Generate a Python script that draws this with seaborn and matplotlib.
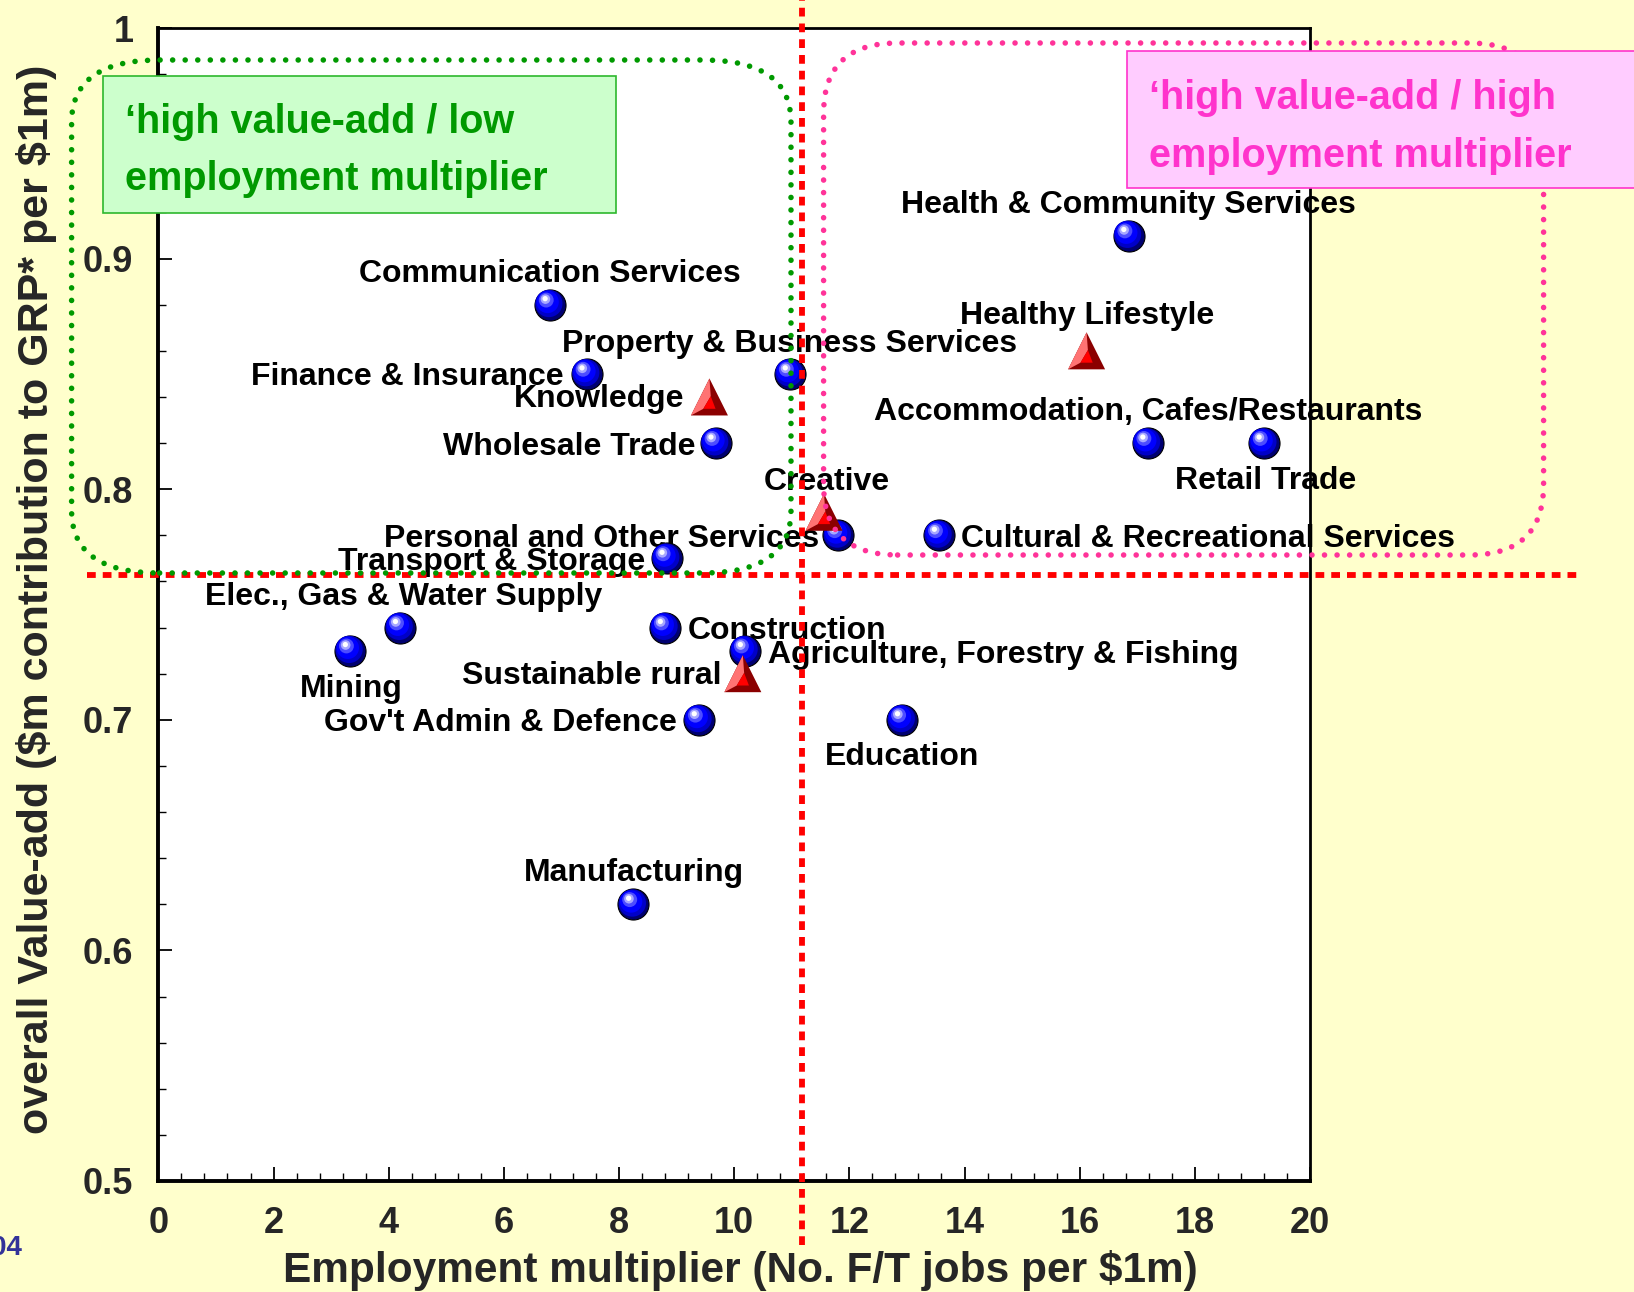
import numpy as np
import matplotlib
matplotlib.use("Agg")
import matplotlib.pyplot as plt
import seaborn as sns
from matplotlib.path import Path
from matplotlib.patches import FancyBboxPatch, Rectangle
from matplotlib.ticker import MultipleLocator

# ---- data -------------------------------------------------------------
sectors = [
    "Health & Community Services", "Communication Services",
    "Property & Business Services", "Finance & Insurance", "Wholesale Trade",
    "Accommodation, Cafes/Restaurants", "Retail Trade",
    "Personal and Other Services", "Cultural & Recreational Services",
    "Transport & Storage", "Elec., Gas & Water Supply", "Mining",
    "Construction", "Agriculture, Forestry & Fishing",
    "Gov't Admin & Defence", "Education", "Manufacturing",
]
sector_employment = [16.85, 6.80, 10.97, 7.44, 9.68, 17.18, 19.20, 11.81, 13.56,
                     8.83, 4.20, 3.33, 8.80, 10.19, 9.39, 12.92, 8.25]
sector_value_add = [0.91, 0.88, 0.85, 0.85, 0.82, 0.82, 0.82, 0.78, 0.78,
                    0.77, 0.74, 0.73, 0.74, 0.73, 0.70, 0.70, 0.62]

themes = ["Knowledge", "Healthy Lifestyle", "Creative", "Sustainable rural"]
theme_employment = [9.57, 16.12, 11.56, 10.15]
theme_value_add = [0.84, 0.86, 0.79, 0.72]

employment_split = 11.17
value_add_split = 0.763

x_ticks = [0, 2, 4, 6, 8, 10, 12, 14, 16, 18, 20]
y_ticks = [0.5, 0.6, 0.7, 0.8, 0.9, 1.0]
y_tick_labels = ["0.5", "0.6", "0.7", "0.8", "0.9", "1"]

# label placement: (ha, dx px, dy px)
sector_label_pos = {
    "Health & Community Services": ("center", 0, 31),
    "Communication Services": ("center", 0, 31),
    "Property & Business Services": ("center", 0, 30),
    "Finance & Insurance": ("right", -23, -3),
    "Wholesale Trade": ("right", -20, -4),
    "Accommodation, Cafes/Restaurants": ("center", 1, 31),
    "Retail Trade": ("center", 2, -38),
    "Personal and Other Services": ("right", -19, -4),
    "Cultural & Recreational Services": ("left", 22, -4),
    "Transport & Storage": ("right", -22, -4),
    "Elec., Gas & Water Supply": ("center", 3, 31),
    "Mining": ("center", 1, -38),
    "Construction": ("left", 23, -3),
    "Agriculture, Forestry & Fishing": ("left", 23, -4),
    "Gov't Admin & Defence": ("right", -22, -3),
    "Education": ("center", 0, -37),
    "Manufacturing": ("center", 1, 31),
}
theme_label_pos = {
    "Knowledge": ("right", -25, -2),
    "Healthy Lifestyle": ("center", 1, 35),
    "Creative": ("center", 3, 30),
    "Sustainable rural": ("right", -21, -2),
}

# ---- style ------------------------------------------------------------
sns.set_style("white")
plt.rcParams["font.family"] = ["Liberation Sans", "DejaVu Sans"]
plt.rcParams["font.weight"] = "bold"

W, H = 1634, 1292
fig = plt.figure(figsize=(W / 100, H / 100), dpi=100, facecolor="#FFFFCC")
ax_l, ax_r, ax_t, ax_b = 158.4, 1310.0, 28.0, 1181.0
ax = fig.add_axes([ax_l / W, 1 - ax_b / H, (ax_r - ax_l) / W, (ax_b - ax_t) / H])
ax.set_facecolor("white")
ax.set_xlim(0, 20)
ax.set_ylim(0.5, 1.0)
px_x = (ax_r - ax_l) / 20.0
px_y = (ax_b - ax_t) / 0.5

# ---- marker shapes ----------------------------------------------------
EXTENT = np.array([[-1.0, -1.0], [1.0, 1.0]])


def circle_marker(cx, cy, r):
    c = Path.circle((cx, cy), r)
    verts = np.vstack([c.vertices, EXTENT])
    codes = np.concatenate([c.codes, [Path.MOVETO, Path.MOVETO]])
    return Path(verts, codes)


def poly_marker(pts):
    pts = np.asarray(pts, float)
    verts = np.vstack([pts, pts[:1], EXTENT])
    codes = ([Path.MOVETO] + [Path.LINETO] * (len(pts) - 1)
             + [Path.CLOSEPOLY, Path.MOVETO, Path.MOVETO])
    return Path(verts, codes)


sphere_layers = [
    ((0.00, 0.00), 1.00, "#000070"),
    ((-0.07, 0.08), 0.88, "#0000C8"),
    ((-0.15, 0.18), 0.72, "#0000FF"),
    ((-0.24, 0.30), 0.48, "#4D4DFF"),
    ((-0.29, 0.36), 0.31, "#A8A8FF"),
    ((-0.31, 0.39), 0.17, "#FFFFFF"),
]
for i, (c, r, col) in enumerate(sphere_layers):
    sns.scatterplot(x=sector_employment, y=sector_value_add,
                    marker=circle_marker(c[0], c[1], r), s=500, color=col,
                    edgecolor="black" if i == 0 else "none",
                    linewidth=0.8 if i == 0 else 0,
                    ax=ax, zorder=3 + 0.01 * i, legend=False, clip_on=False)

pyramid_layers = [
    ([(0, 1), (-1, -1), (1, -1)], "#8B0000"),
    ([(0, 1), (-1, -1), (-0.33, -0.64), (0.07, 0.04)], "#FF7373"),
    ([(0.07, 0.04), (-0.33, -0.64), (0.33, -0.64)], "#FF0000"),
]
for i, (pts, col) in enumerate(pyramid_layers):
    sns.scatterplot(x=theme_employment, y=theme_value_add,
                    marker=poly_marker(pts), s=710, color=col,
                    edgecolor="none", linewidth=0,
                    ax=ax, zorder=3.2 + 0.01 * i, legend=False, clip_on=False)

# ---- point labels -----------------------------------------------------
def put_labels(names, xs, ys, placement):
    for name, x, y in zip(names, xs, ys):
        ha, dx, dy = placement[name]
        ax.annotate(name, (x, y), xytext=(dx * 0.72, dy * 0.72),
                    textcoords="offset points", ha=ha, va="center",
                    fontsize=23, fontweight="bold", color="black",
                    zorder=2.2, annotation_clip=False)


put_labels(sectors, sector_employment, sector_value_add, sector_label_pos)
put_labels(themes, theme_employment, theme_value_add, theme_label_pos)

# ---- quadrant split lines ---------------------------------------------
split_kw = dict(color="#FF0000", lw=4.2, dashes=(1.5, 1.2), clip_on=False,
                zorder=5, dash_capstyle="butt")
ax.plot([employment_split, employment_split],
        [1 - (1245 - ax_t) / px_y, 1 + ax_t / px_y + 0.002], **split_kw)
ax.plot([(86.5 - ax_l) / px_x, (1581.5 - ax_l) / px_x],
        [value_add_split, value_add_split], **split_kw)

# ---- dotted quadrant outlines -----------------------------------------
def dotted_outline(x0, x1, y0, y1, rx_px, ry_px, color):
    rs = rx_px / px_x
    aspect = ry_px / (rs * px_y)
    box = FancyBboxPatch((x0, y0), x1 - x0, y1 - y0,
                         boxstyle=f"round,pad=0,rounding_size={rs}",
                         mutation_aspect=aspect, fill=False, edgecolor=color,
                         linewidth=4.0, linestyle=(0, (0.01, 2.25)),
                         capstyle="round", clip_on=False, zorder=6)
    ax.add_patch(box)


dotted_outline((71.6 - ax_l) / px_x, (791 - ax_l) / px_x,
               1 - (573 - ax_t) / px_y, 1 - (60 - ax_t) / px_y, 88, 62, "#009900")
dotted_outline((823.6 - ax_l) / px_x, (1543.6 - ax_l) / px_x,
               1 - (555 - ax_t) / px_y, 1 - (43 - ax_t) / px_y, 74, 70, "#FF3399")

# ---- quadrant captions ------------------------------------------------
def caption(x0, x1, y0, y1, face, edge, lines, text_x, baselines, color):
    fig.add_artist(Rectangle((x0 / W, 1 - y1 / H), (x1 - x0) / W, (y1 - y0) / H,
                             transform=fig.transFigure, facecolor=face,
                             edgecolor=edge, linewidth=1.2, zorder=8))
    for line, b in zip(lines, baselines):
        fig.text(text_x / W, 1 - b / H, line, fontsize=28.5, fontweight="bold",
                 color=color, ha="left", va="baseline", zorder=9)


caption(103, 616, 76, 213, "#CCFFCC", "#2DB82D",
        ["\u2018high value-add / low", "employment multiplier"],
        125, [133, 190], "#009900")
caption(1127, 1645, 51, 188, "#FFCCFF", "#FF33CC",
        ["\u2018high value-add / high", "employment multiplier"],
        1149, [109, 167], "#FF33CC")

fig.text(22 / W, 1 - 1255 / H, "2004", fontsize=20, fontweight="bold",
         color="#333399", ha="right", va="baseline")

# ---- axes, ticks, labels ----------------------------------------------
ax.set_xticks(x_ticks)
ax.set_xticklabels([str(t) for t in x_ticks])
ax.set_yticks(y_ticks)
ax.set_yticklabels(y_tick_labels)
ax.xaxis.set_minor_locator(MultipleLocator(0.4))
ax.yaxis.set_minor_locator(MultipleLocator(0.02))
ax.tick_params(which="both", direction="in", bottom=True, left=True,
               top=False, right=False, color="black")
ax.tick_params(which="major", length=10, width=1.3, pad=18, labelsize=26)
ax.tick_params(which="minor", length=6, width=1.0)
for lab in ax.get_xticklabels() + ax.get_yticklabels():
    lab.set_fontweight("bold")

for side in ["left", "bottom"]:
    ax.spines[side].set_linewidth(2.8)
for side in ["top", "right"]:
    ax.spines[side].set_linewidth(2.0)
for sp in ax.spines.values():
    sp.set_color("black")
    sp.set_visible(True)

ax.set_xlabel("Employment multiplier (No. F/T jobs per \\$1m)",
              fontsize=30.5, fontweight="bold", va="center")
ax.set_ylabel("overall Value-add (\\$m contribution to GRP* per \\$1m)",
              fontsize=31, fontweight="bold", va="center")
ax.xaxis.set_label_coords(0.505, -0.078)
ax.yaxis.set_label_coords(-0.106, 0.5048)

fig.savefig("out.png", dpi=100, facecolor=fig.get_facecolor())
